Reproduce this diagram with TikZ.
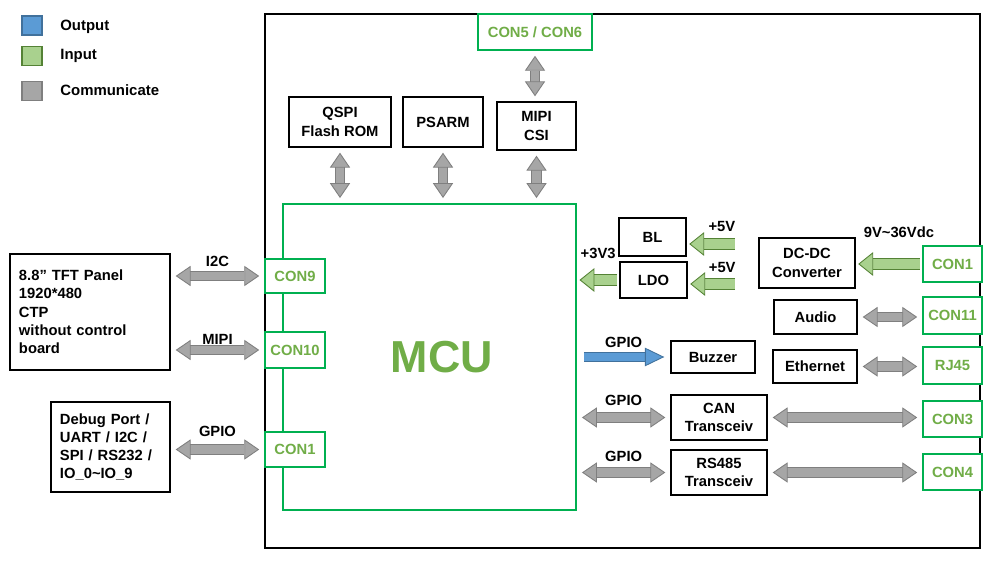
\documentclass[tikz,border=0pt]{standalone}
\usepackage{fontspec}
\setmainfont{Liberation Sans}
\usetikzlibrary{arrows.meta}

\definecolor{congreen}{RGB}{0,176,80}
\definecolor{txtgreen}{RGB}{112,173,71}
\definecolor{busfill}{RGB}{166,166,166}
\definecolor{busedge}{RGB}{127,127,127}
\definecolor{pwrfill}{RGB}{169,209,142}
\definecolor{pwredge}{RGB}{84,130,53}
\definecolor{outfill}{RGB}{91,155,213}
\definecolor{outedge}{RGB}{65,113,156}

\begin{document}
\begin{tikzpicture}[x=0.2mm, y=-0.2mm,
    font=\fontsize{8.4}{10.4}\selectfont\bfseries,
    wh/.style 2 args={minimum width=#1*0.2mm, minimum height=#2*0.2mm},
    box/.style={draw, line width=0.8pt, inner sep=1pt, align=center},
    con/.style={draw=congreen, fill=white, line width=0.9pt, text=txtgreen, inner sep=1pt},
    lbl/.style={inner sep=0pt},
    swatch/.style 2 args={draw=#2, fill=#1, line width=0.6pt, wh={20}{19}},
    % fat arrows
    bus/.style={draw=busedge, double=busfill, line width=0.5pt, double distance=5pt,
        shorten <=1mm, shorten >=1mm,
        arrows={Triangle[width=11.5pt,length=8.5pt,fill=busfill,color=busedge,line width=0.5pt]-Triangle[width=11.5pt,length=8.5pt,fill=busfill,color=busedge,line width=0.5pt]}},
    pwr/.style={draw=pwredge, double=pwrfill, line width=0.5pt, double distance=5.6pt,
        shorten <=0.5mm, shorten >=0.5mm,
        arrows={-Triangle[width=13.5pt,length=8.5pt,fill=pwrfill,color=pwredge,line width=0.5pt]}},
    outp/.style={draw=outedge, double=outfill, line width=0.5pt, double distance=4.2pt,
        shorten <=1.4mm, shorten >=1.2mm,
        arrows={-Triangle[width=10.5pt,length=11pt,fill=outfill,color=outedge,line width=0.5pt]}}
]
\useasboundingbox (0,0) rectangle (1000,570);

% Legend
\node[swatch={outfill}{outedge}] (sw out) at (32,25.5) {};
\node[swatch={pwrfill}{pwredge}] (sw in) at (32,56) {};
\node[swatch={busfill}{busedge}] (sw com) at (32,91) {};
\node[lbl, anchor=west, font=\fontsize{8.5}{10}\selectfont\bfseries] (lg out) at (60,27) {Output};
\node[lbl, anchor=west, font=\fontsize{8.5}{10}\selectfont\bfseries] (lg in) at (60,56) {Input};
\node[lbl, anchor=west, font=\fontsize{8.5}{10}\selectfont\bfseries] (lg com) at (60,90) {Communicate};

% Board and MCU
\node[draw, line width=0.8pt, wh={715}{534}] (board) at (622.5,281) {};
\node[draw=congreen, line width=1.1pt, wh={293}{306}] (mcu) at (429.5,357) {};
\node[text=txtgreen, font=\fontsize{25.5}{30}\selectfont\bfseries] (mcutitle) at (442,357) {MCU};

% Memory and camera
\node[box, wh={102}{50}] (qspi) at (340,122) {QSPI\\Flash ROM};
\node[box, wh={80}{50}] (psarm) at (443,122) {PSARM};
\node[box, wh={79}{48}] (mipi) at (536.5,126) {MIPI\\CSI};
\node[con, wh={114}{36}] (con56) at (535,32) {CON5 / CON6};

% Connectors on the left
\node[con, wh={60}{34}] (con9) at (295,276) {CON9};
\node[con, wh={60}{36}] (con10) at (295,350) {CON10};
\node[con, wh={60}{35}] (con1l) at (295,449.5) {CON1};
\node[box, wh={160}{116}, align=left, text width=28.4mm, inner xsep=1.6mm] (tft) at (90,312)
    {8.8'' TFT Panel\\1920*480\\CTP\\without control\\board};
\node[box, wh={119}{90}, align=left, text width=20.2mm, inner xsep=1.8mm] (debug) at (110.5,447)
    {Debug Port /\\UART / I2C /\\SPI / RS232 /\\IO\_0\textasciitilde IO\_9};

% Power
\node[box, wh={67}{38}] (bl) at (652.5,237) {BL};
\node[box, wh={67}{36}] (ldo) at (653.5,280) {LDO};
\node[box, wh={96}{50}] (dcdc) at (807,263) {DC-DC\\Converter};
\node[con, wh={59}{36}] (con1r) at (952.5,264) {CON1};
\coordinate (bl in) at (737,244);
\coordinate (ldo in) at (737,284);

% Peripherals on the right
\node[box, wh={83}{34}] (audio) at (815.5,317) {Audio};
\node[con, wh={59}{37}] (con11) at (952.5,315.5) {CON11};
\node[box, wh={84}{33}] (ether) at (815,366.5) {Ethernet};
\node[con, wh={59}{37}] (rj45) at (952.5,365.5) {RJ45};
\node[box, wh={84}{32}] (buzzer) at (713,357) {Buzzer};
\node[box, wh={96}{45}] (can) at (719,417.5) {CAN\\Transceiv};
\node[con, wh={59}{36}] (con3) at (952.5,419) {CON3};
\node[box, wh={96}{45}] (rs485) at (719,472.5) {RS485\\Transceiv};
\node[con, wh={59}{36}] (con4) at (952.5,472) {CON4};

% Arrows to the MCU
\draw[bus] (qspi.south) -- (qspi.south |- mcu.north);
\draw[bus] (psarm.south) -- (psarm.south |- mcu.north);
\draw[bus] (mipi.south) -- (mipi.south |- mcu.north);
\draw[bus] (con56.south) -- (con56.south |- mipi.north);

\draw[bus] (tft.east |- con9.west) -- (con9.west) node[lbl, midway, above=5pt] {I2C};
\draw[bus] (tft.east |- con10.west) -- (con10.west) node[lbl, midway, above=2.8pt] {MIPI};
\draw[bus] (debug.east |- con1l.west) -- (con1l.west) node[lbl, midway, above=7pt] {GPIO};

\draw[pwr] (bl in) -- (bl.east |- bl in) node[lbl, pos=0.3, above=7pt] {+5V};
\draw[pwr] (ldo in) -- (ldo.east |- ldo in) node[lbl, pos=0.3, above=6pt] {+5V};
\draw[pwr] (ldo.west) -- (mcu.east |- ldo.west) node[lbl, midway, above=12pt] {+3V3};
\draw[pwr] (con1r.west) -- (con1r.west -| dcdc.east) node[lbl, pos=0.35, above=15pt] {9V\textasciitilde 36Vdc};

\draw[bus] (audio.east) -- (audio.east -| con11.west);
\draw[bus] (ether.east) -- (ether.east -| rj45.west);

\draw[outp] (mcu.east |- buzzer.west) -- (buzzer.west) node[lbl, midway, above=5pt] {GPIO};
\draw[bus] (mcu.east |- can.west) -- (can.west) node[lbl, midway, above=6.5pt] {GPIO};
\draw[bus] (mcu.east |- rs485.west) -- (rs485.west) node[lbl, midway, above=6pt] {GPIO};
\draw[bus] (can.east) -- (can.east -| con3.west);
\draw[bus] (rs485.east) -- (rs485.east -| con4.west);
\end{tikzpicture}
\end{document}
